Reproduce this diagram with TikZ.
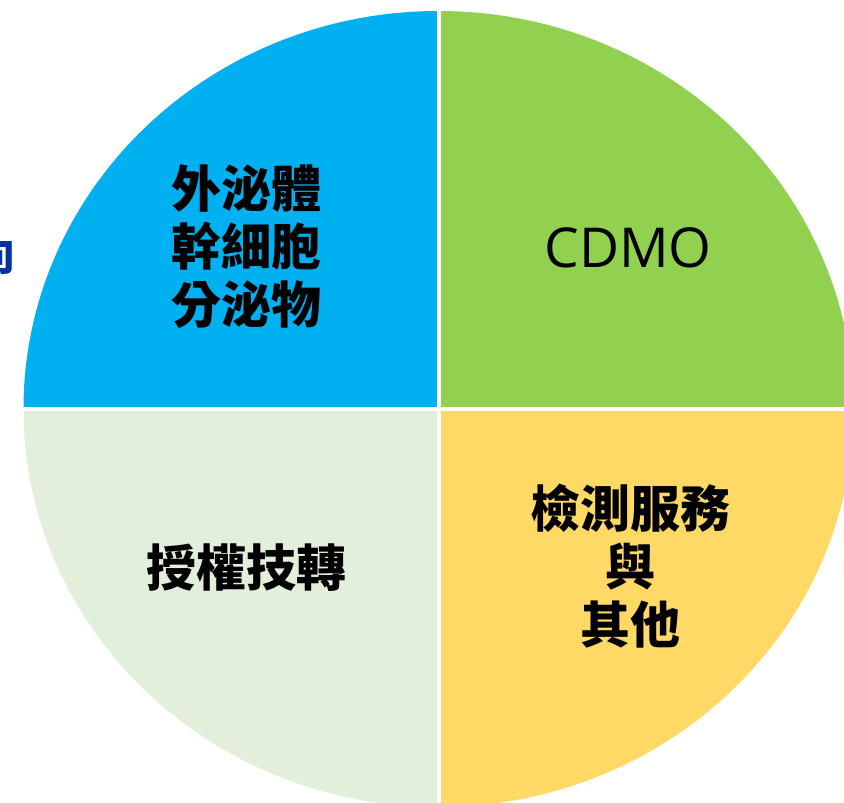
\documentclass[tikz,border=0pt]{standalone}
\usepackage{fontspec}
\newfontfamily\cjk{Noto Sans CJK TC}
\newfontfamily\latin{Open Sans}
\definecolor{qblue}{HTML}{00B0F0}
\definecolor{qgreen}{HTML}{92D050}
\definecolor{qyellow}{HTML}{FFD966}
\definecolor{qpale}{HTML}{E2EFDA}
\definecolor{titleblue}{HTML}{0033A0}

\begin{document}
\begin{tikzpicture}
  [x=1pt,y=1pt,
   every node/.style={inner sep=0pt,align=center,font=\cjk\bfseries\fontsize{50}{58}\selectfont},
   gap/.style={white,line width=4pt}]
  \useasboundingbox (0,0) rectangle (844,803);
  \coordinate (c) at (438.5,394);

  % the four quarters
  \fill[qblue]   (c) -- ++(-415,0) arc[start angle=180,end angle=90,x radius=415,y radius=398] -- cycle;
  \fill[qgreen]  (c) -- ++(0,398) arc[start angle=90,end angle=0,x radius=415,y radius=398] -- cycle;
  \fill[qyellow] (c) -- ++(415,0) arc[start angle=0,end angle=-90,x radius=415,y radius=398] -- cycle;
  \fill[qpale]   (c) -- ++(0,-398) arc[start angle=270,end angle=180,x radius=415,y radius=398] -- cycle;
  \draw[gap] (438.5,0) -- (438.5,803);
  \draw[gap] (0,394) -- (844,394);

  \node (exo)     at (246,556) {外泌體\\幹細胞\\分泌物};
  \node[font=\latin\fontsize{55}{60}\selectfont] (cdmo) at (628,555) {CDMO};
  \node (license) at (246,235) {授權技轉};
  \node (testing) at (630,237) {檢測服務\\與\\其他};
  \node[text=titleblue,font=\cjk\bfseries\fontsize{42}{42}\selectfont] (title) at (-6,548) {向};

\end{tikzpicture}
\end{document}
